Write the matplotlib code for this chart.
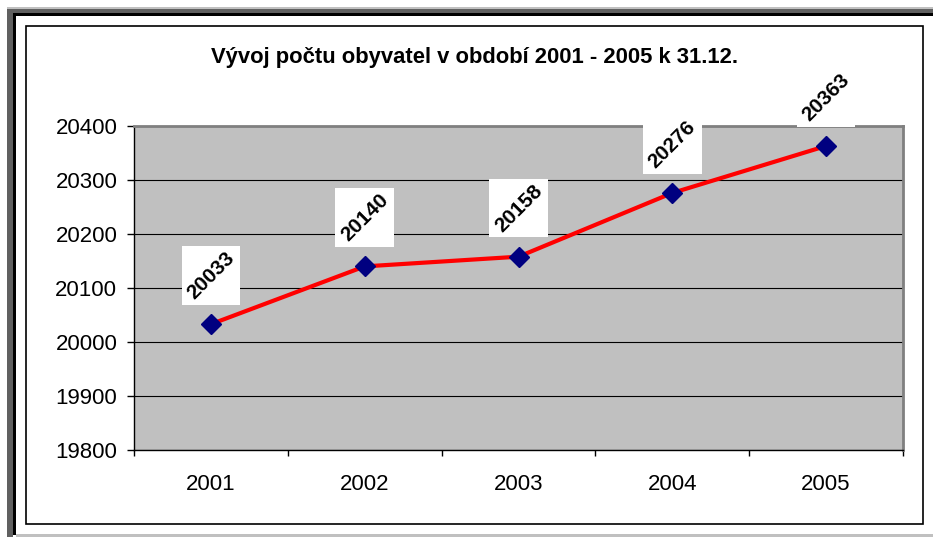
import matplotlib
matplotlib.use("Agg")
import matplotlib.pyplot as plt
from matplotlib.patches import Rectangle
from matplotlib.transforms import IdentityTransform

years = ["2001", "2002", "2003", "2004", "2005"]
population = [20033, 20140, 20158, 20276, 20363]
yticks = [19800, 19900, 20000, 20100, 20200, 20300, 20400]
title = "Vývoj počtu obyvatel v období 2001 - 2005 k 31.12."

plt.rcParams['font.family'] = ['Liberation Sans', 'DejaVu Sans']

W, H = 933, 537
fig = plt.figure(figsize=(W / 100, H / 100), dpi=100)
fig.patch.set_facecolor('white')

def rect(x0, y0, x1, y1, color, lw=0, fill=True, ec=None):
    r = Rectangle((x0 / W, 1 - y1 / H), (x1 - x0) / W, (y1 - y0) / H,
                  transform=fig.transFigure, facecolor=color if fill else 'none',
                  edgecolor=ec if ec else 'none', linewidth=lw, zorder=0)
    fig.add_artist(r)

# outer window frame
rect(7, 7, W, 9, '#c0c0c0')
rect(7, 9, W, 13, '#606060')
rect(7, 9, 13, H, '#606060')
rect(13, 13, W, 16, 'black')
rect(13, 13, 16, 535, 'black')
rect(16, 534, W, H, '#c0c0c0')
# chart area border
rect(26, 26, 923, 524, 'white', lw=1.2, fill=False, ec='black')

x0, x1, yt, yb = 134, 903, 126, 450
ax = fig.add_axes([x0 / W, 1 - yb / H, (x1 - x0) / W, (yb - yt) / H])
ax.set_facecolor('#c0c0c0')

xs = list(range(len(years)))
ax.plot(xs, population, color='#ff0000', lw=3, zorder=3, solid_capstyle='round')
ax.plot(xs, population, linestyle='none', marker='D', markersize=10.5,
        markerfacecolor='#000080', markeredgecolor='#000080', zorder=4, clip_on=False)

labels = []
for x, v in zip(xs, population):
    t = ax.annotate(str(v), (x, v), xytext=(0, 35), textcoords='offset points',
                    ha='center', va='center', rotation=45, rotation_mode='anchor',
                    fontsize=15, fontweight='bold', zorder=7, annotation_clip=False)
    labels.append(t)

ax.set_xlim(-0.5, len(years) - 0.5)
ax.set_ylim(yticks[0], yticks[-1])
ax.set_yticks(yticks)
ax.set_yticklabels([str(t) for t in yticks])
ax.set_xticks(xs)
ax.set_xticklabels(years)
ax.set_xticks([i - 0.5 for i in range(len(years) + 1)], minor=True)
ax.tick_params(axis='x', which='major', length=0, pad=17, labelsize=16)
ax.tick_params(axis='x', which='minor', length=4.5, width=1, direction='out')
ax.tick_params(axis='y', length=5, width=1, pad=7, labelsize=16)
ax.grid(axis='y', color='black', lw=0.8)
ax.set_axisbelow(True)
for s in ['top', 'right']:
    ax.spines[s].set_color('#808080')
    ax.spines[s].set_linewidth(2)
for s in ['left', 'bottom']:
    ax.spines[s].set_color('black')
    ax.spines[s].set_linewidth(1)

fig.text(474.5 / W, 1 - 57 / H, title, ha='center', va='center',
         fontsize=15.8, fontweight='bold')

# axis-aligned white boxes behind rotated labels
fig.canvas.draw()
renderer = fig.canvas.get_renderer()
for t in labels:
    bb = t.get_window_extent(renderer)
    pad = 2
    r = Rectangle((bb.x0 - pad, bb.y0 - pad), bb.width + 2 * pad, bb.height + 2 * pad,
                  transform=IdentityTransform(), facecolor='white', edgecolor='none',
                  zorder=6, clip_on=False)
    ax.add_artist(r)

fig.savefig('out.png', dpi=100)
